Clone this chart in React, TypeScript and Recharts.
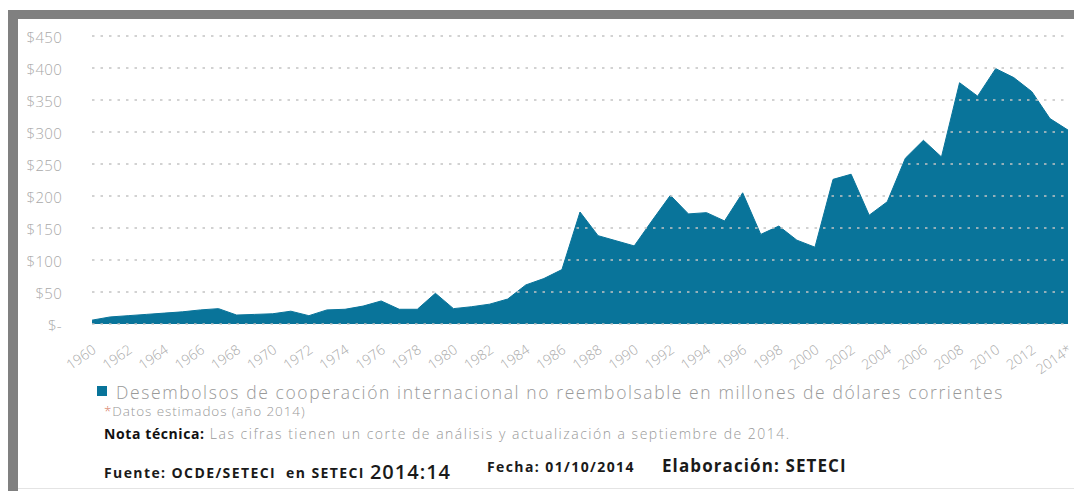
import { AreaChart, Area, XAxis, YAxis, ReferenceLine } from "recharts";

// años 1960–2014 (2014 estimado)
const years = [
  1960, 1961, 1962, 1963, 1964, 1965, 1966, 1967, 1968, 1969,
  1970, 1971, 1972, 1973, 1974, 1975, 1976, 1977, 1978, 1979,
  1980, 1981, 1982, 1983, 1984, 1985, 1986, 1987, 1988, 1989,
  1990, 1991, 1992, 1993, 1994, 1995, 1996, 1997, 1998, 1999,
  2000, 2001, 2002, 2003, 2004, 2005, 2006, 2007, 2008, 2009,
  2010, 2011, 2012, 2013, 2014,
];

// millones de dólares corrientes
const desembolsos = [
  6, 11, 13, 15, 17, 19, 22, 24, 14, 15,
  16, 20, 13, 22, 23, 28, 36, 23, 23, 48,
  24, 27, 31, 39, 61, 71, 85, 175, 138, 130,
  122, 162, 201, 172, 174, 161, 205, 140, 153, 131,
  120, 226, 234, 170, 191, 259, 287, 261, 377, 356,
  399, 385, 363, 321, 303,
];

const yTicks = [0, 50, 100, 150, 200, 250, 300, 350, 400, 450];

const TEAL = "#09749a";
const LIGHT = "#a9a9a9";
const SANS = "'Open Sans', Lato, sans-serif";

const data = years.map((y, i) => ({
  year: y === 2014 ? "2014*" : String(y),
  value: desembolsos[i],
}));

const YearTick = (props: any) => {
  const { x, y, payload } = props;
  const tx = x + 5;
  const ty = y + 20;
  return (
    <text
      x={tx}
      y={ty}
      textAnchor="end"
      fill={LIGHT}
      fontSize={14}
      fontFamily={SANS}
      fontWeight={300}
      transform={`rotate(-35, ${tx}, ${ty})`}
    >
      {payload.value}
    </text>
  );
};

const textBase = {
  position: "absolute" as const,
  fontFamily: SANS,
  whiteSpace: "nowrap" as const,
};

export default function App() {
  return (
    <div
      style={{
        position: "absolute",
        left: 0,
        top: 0,
        width: 1074,
        height: 491,
        background: "#fff",
        overflow: "hidden",
      }}
    >
      {/* marco gris */}
      <div style={{ position: "absolute", left: 8, top: 10, width: 1066, height: 9, background: "#808080" }} />
      <div style={{ position: "absolute", left: 8, top: 10, width: 10, height: 481, background: "#808080" }} />
      <div style={{ position: "absolute", left: 18, top: 488, width: 1056, height: 1, background: "#e4e4e4" }} />

      <div style={{ position: "absolute", left: 0, top: 0 }}>
        <AreaChart
          width={1074}
          height={380}
          data={data}
          margin={{ top: 36, right: 6, bottom: 0, left: 22 }}
        >
          <XAxis
            dataKey="year"
            interval={1}
            axisLine={false}
            tickLine={false}
            tick={<YearTick />}
            height={56}
          />
          <YAxis
            width={70}
            domain={[0, 450]}
            ticks={yTicks}
            axisLine={false}
            tickLine={false}
            tickSize={0}
            tickMargin={30}
            tick={{
              fill: LIGHT,
              fontSize: 15,
              fontFamily: SANS,
              fontWeight: 300,
              letterSpacing: 0.3,
              dy: 2,
            }}
            tickFormatter={(v: number) => (v === 0 ? "$-" : `$${v}`)}
          />
          <Area
            type="linear"
            dataKey="value"
            stroke={TEAL}
            strokeWidth={1}
            fill={TEAL}
            fillOpacity={1}
            isAnimationActive={false}
          />
          {yTicks.map((v) => (
            <ReferenceLine
              key={v}
              y={v}
              stroke="#c4c4c4"
              strokeWidth={1.6}
              strokeDasharray="2.5 6"
            />
          ))}
        </AreaChart>
      </div>

      {/* leyenda */}
      <div style={{ position: "absolute", left: 97, top: 386, width: 10, height: 10, background: TEAL }} />
      <div style={{ ...textBase, left: 116, top: 380, fontWeight: 300, fontSize: 17.5, letterSpacing: 1.6, color: "#999" }}>
        Desembolsos de cooperación internacional no reembolsable en millones de dólares corrientes
      </div>
      <div style={{ ...textBase, left: 104, top: 402, fontWeight: 300, fontSize: 13.5, letterSpacing: 0.9, color: "#999" }}>
        <span style={{ color: "#d9826a" }}>*</span>Datos estimados (año 2014)
      </div>
      <div style={{ ...textBase, left: 104, top: 424, fontSize: 14, letterSpacing: 1.5, color: "#999" }}>
        <span style={{ color: "#111", fontWeight: 700, letterSpacing: 0.6 }}>Nota técnica:</span>{" "}
        <span style={{ fontWeight: 300 }}>
          Las cifras tienen un corte de análisis y actualización a septiembre de 2014.
        </span>
      </div>

      {/* fuente */}
      <div style={{ ...textBase, left: 104, top: 457, fontWeight: 700, fontSize: 14, letterSpacing: 1.4, color: "#1a1a1a" }}>
        Fuente: OCDE/SETECI&nbsp; en SETECI{" "}
        <span style={{ fontSize: 20, fontWeight: 600, letterSpacing: 1, position: "relative", top: 1 }}>2014:14</span>
      </div>
      <div style={{ ...textBase, left: 487, top: 457, fontWeight: 700, fontSize: 14, letterSpacing: 1.4, color: "#1a1a1a" }}>
        Fecha: 01/10/2014
      </div>
      <div style={{ ...textBase, left: 662, top: 454, fontWeight: 700, fontSize: 17, letterSpacing: 1.1, color: "#1a1a1a" }}>
        Elaboración: SETECI
      </div>
    </div>
  );
}
